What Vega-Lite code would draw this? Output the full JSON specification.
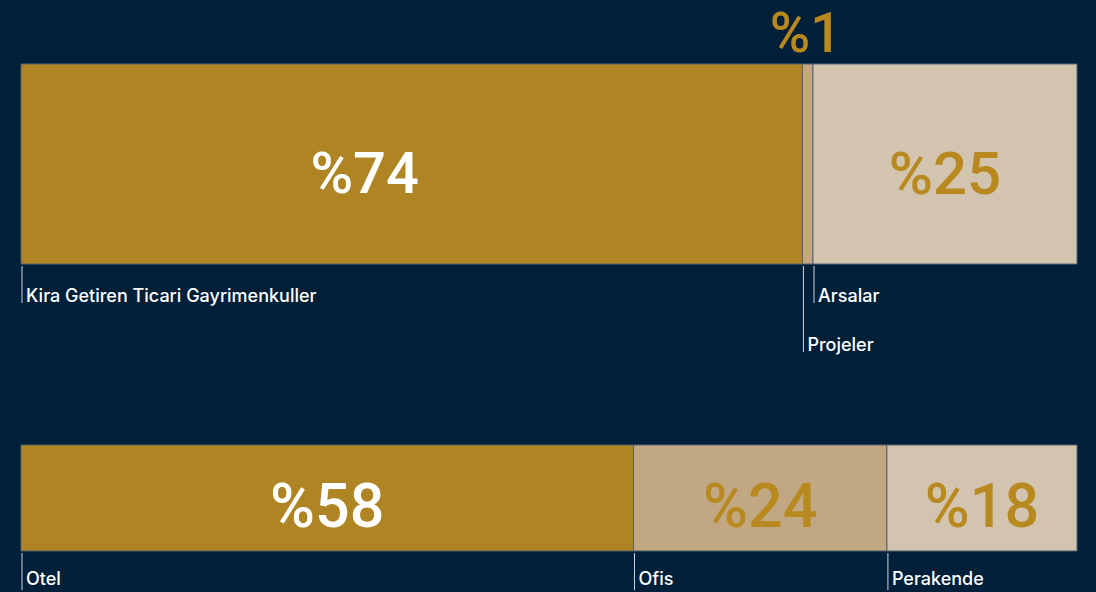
{
  "$schema": "https://vega.github.io/schema/vega-lite/v6.json",
  "background": "#00203a",
  "padding": {"left": 20, "right": 20, "top": 0, "bottom": 0},
  "spacing": 0,
  "config": {"view": {"stroke": null}, "font": "Inter"},
  "datasets": {
    "portfoy": [
      {"kategori": "Kira Getiren Ticari Gayrimenkuller", "pay": 74, "sira": 1},
      {"kategori": "Projeler", "pay": 1, "sira": 2},
      {"kategori": "Arsalar", "pay": 25, "sira": 3}
    ],
    "sektor": [
      {"kategori": "Otel", "pay": 58, "sira": 1},
      {"kategori": "Ofis", "pay": 24, "sira": 2},
      {"kategori": "Perakende", "pay": 18, "sira": 3}
    ]
  },
  "vconcat": [
    {
      "width": 1056,
      "height": 380,
      "data": {"name": "portfoy"},
      "transform": [
        {"stack": "pay", "groupby": [], "sort": [{"field": "sira"}], "as": ["x0", "x1"]},
        {"calculate": "(datum.x0 + datum.x1) / 2", "as": "orta"},
        {"calculate": "'%' + datum.pay", "as": "etiket"}
      ],
      "layer": [
        {
          "mark": {"type": "bar", "stroke": "#56626e", "strokeWidth": 1},
          "encoding": {
            "x": {"field": "x0", "type": "quantitative", "scale": {"domain": [0, 100], "nice": false}, "axis": null},
            "x2": {"field": "x1"},
            "y": {"datum": 0, "type": "quantitative", "scale": {"domain": [-0.58, 1.32], "nice": false, "zero": false}, "axis": null},
            "y2": {"datum": 1},
            "color": {"field": "sira", "type": "ordinal", "scale": {"domain": [1, 2, 3], "range": ["#af8422", "#c2a882", "#d3c4b0"]}, "legend": null}
          }
        },
        {
          "transform": [{"filter": "datum.sira == 1"}],
          "mark": {"type": "text", "font": "Roboto", "fontWeight": 500, "fontSize": 58, "align": "center", "baseline": "middle", "dy": 12, "dx": -47, "color": "#ffffff"},
          "encoding": {
            "x": {"field": "orta", "type": "quantitative"},
            "y": {"datum": 0.5, "type": "quantitative"},
            "text": {"field": "etiket"}
          }
        },
        {
          "transform": [{"filter": "datum.sira == 3"}],
          "mark": {"type": "text", "font": "Roboto", "fontWeight": 500, "fontSize": 60, "align": "center", "baseline": "middle", "dy": 12, "color": "#b8891e"},
          "encoding": {
            "x": {"field": "orta", "type": "quantitative"},
            "y": {"datum": 0.5, "type": "quantitative"},
            "text": {"field": "etiket"}
          }
        },
        {
          "transform": [{"filter": "datum.pay < 5"}],
          "mark": {"type": "text", "font": "Roboto", "fontSize": 55, "fontWeight": 500, "align": "center", "baseline": "middle", "dy": 5, "dx": -2, "color": "#b8891e"},
          "encoding": {
            "x": {"field": "orta", "type": "quantitative"},
            "y": {"datum": 1.17, "type": "quantitative"},
            "text": {"field": "etiket"}
          }
        },
        {
          "transform": [{"filter": "datum.pay >= 5"}],
          "mark": {"type": "rule", "color": "#d0d4da", "strokeWidth": 1, "xOffset": 1},
          "encoding": {
            "x": {"field": "x0", "type": "quantitative"},
            "y": {"datum": -0.01, "type": "quantitative"},
            "y2": {"datum": -0.195}
          }
        },
        {
          "transform": [{"filter": "datum.pay < 5"}],
          "mark": {"type": "rule", "color": "#d0d4da", "strokeWidth": 1, "xOffset": 1},
          "encoding": {
            "x": {"field": "x0", "type": "quantitative"},
            "y": {"datum": -0.01, "type": "quantitative"},
            "y2": {"datum": -0.44}
          }
        },
        {
          "transform": [{"filter": "datum.pay >= 5"}],
          "mark": {"type": "text", "fontSize": 18, "fontWeight": 500, "align": "left", "baseline": "alphabetic", "dx": 5, "color": "#ffffff"},
          "encoding": {
            "x": {"field": "x0", "type": "quantitative"},
            "y": {"datum": -0.19, "type": "quantitative"},
            "text": {"field": "kategori"}
          }
        },
        {
          "transform": [{"filter": "datum.pay < 5"}],
          "mark": {"type": "text", "fontSize": 18, "fontWeight": 500, "align": "left", "baseline": "alphabetic", "dx": 5, "color": "#ffffff"},
          "encoding": {
            "x": {"field": "x0", "type": "quantitative"},
            "y": {"datum": -0.435, "type": "quantitative"},
            "text": {"field": "kategori"}
          }
        }
      ]
    },
    {
      "width": 1056,
      "height": 212,
      "data": {"name": "sektor"},
      "transform": [
        {"stack": "pay", "groupby": [], "sort": [{"field": "sira"}], "as": ["x0", "x1"]},
        {"calculate": "(datum.x0 + datum.x1) / 2", "as": "orta"},
        {"calculate": "'%' + datum.pay", "as": "etiket"}
      ],
      "layer": [
        {
          "mark": {"type": "bar", "stroke": "#56626e", "strokeWidth": 1},
          "encoding": {
            "x": {"field": "x0", "type": "quantitative", "scale": {"domain": [0, 100], "nice": false}, "axis": null},
            "x2": {"field": "x1"},
            "y": {"datum": 0, "type": "quantitative", "scale": {"domain": [-0.387, 1.613], "nice": false, "zero": false}, "axis": null},
            "y2": {"datum": 1},
            "color": {"field": "sira", "type": "ordinal", "scale": {"domain": [1, 2, 3], "range": ["#af8422", "#c2a882", "#d3c4b0"]}, "legend": null}
          }
        },
        {
          "mark": {"type": "text", "font": "Roboto", "fontWeight": 500, "fontSize": 61, "align": "center", "baseline": "middle", "dy": 11},
          "encoding": {
            "x": {"field": "orta", "type": "quantitative"},
            "y": {"datum": 0.5, "type": "quantitative"},
            "text": {"field": "etiket"},
            "color": {"condition": {"test": "datum.sira == 1", "value": "#ffffff"}, "value": "#b8891e"}
          }
        },
        {
          "mark": {"type": "rule", "color": "#d0d4da", "strokeWidth": 1, "xOffset": 1},
          "encoding": {
            "x": {"field": "x0", "type": "quantitative"},
            "y": {"datum": -0.02, "type": "quantitative"},
            "y2": {"datum": -0.37}
          }
        },
        {
          "mark": {"type": "text", "fontSize": 18, "fontWeight": 500, "align": "left", "baseline": "alphabetic", "dx": 5, "color": "#ffffff"},
          "encoding": {
            "x": {"field": "x0", "type": "quantitative"},
            "y": {"datum": -0.32, "type": "quantitative"},
            "text": {"field": "kategori"}
          }
        }
      ]
    }
  ]
}
